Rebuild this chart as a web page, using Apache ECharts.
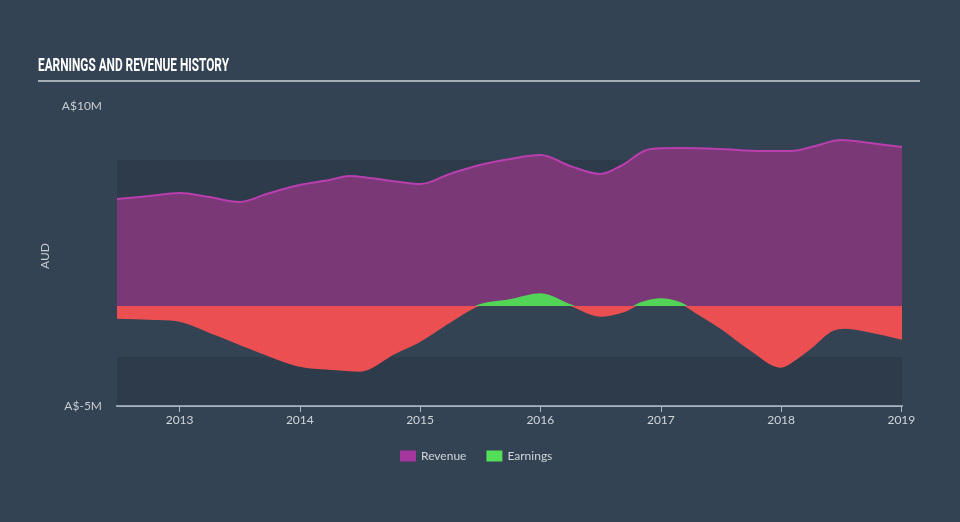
<!DOCTYPE html>
<html>
<head>
<meta charset="utf-8">
<script src="https://cdn.jsdelivr.net/npm/echarts@6/dist/echarts.min.js"></script>
<style>
html,body{margin:0;padding:0;background:#344353;}
#c{width:960px;height:522px;}
</style>
</head>
<body>
<div id="c"></div>
<script>
var revenueDates = ['2012-06-25','2012-10-01','2013-01-01','2013-04-01','2013-07-01','2013-10-01','2014-01-01','2014-04-01','2014-06-01','2014-08-01','2014-11-01','2015-01-01','2015-04-01','2015-07-01','2015-10-01','2016-01-01','2016-04-01','2016-07-01','2016-09-01','2016-12-01','2017-03-01','2017-07-01','2017-11-01','2018-02-01','2018-04-15','2018-07-01','2018-09-27','2019-01-03'];
var revenueValues = [5.35,5.5,5.65,5.45,5.2,5.65,6.05,6.3,6.5,6.4,6.2,6.1,6.6,7.05,7.35,7.55,7.0,6.6,7.0,7.85,7.9,7.85,7.75,7.75,8.0,8.3,8.15,7.95];

var earningsDates = ['2012-06-25','2012-10-01','2013-01-01','2013-04-01','2013-07-01','2013-10-01','2014-01-01','2014-04-01','2014-07-01','2014-08-15','2014-10-01','2015-01-01','2015-04-01','2015-07-01','2015-10-01','2016-01-01','2016-04-01','2016-07-01','2016-09-15','2016-11-01','2017-01-01','2017-03-01','2017-04-15','2017-07-01','2017-10-01','2018-01-01','2018-02-15','2018-04-01','2018-06-01','2018-07-15','2018-10-01','2019-01-03'];
var earningsValues = [-0.6,-0.65,-0.75,-1.3,-1.9,-2.5,-3.0,-3.15,-3.25,-3.0,-2.5,-1.75,-0.8,0.05,0.3,0.6,0.05,-0.5,-0.25,0.15,0.35,0.15,-0.3,-1.1,-2.2,-3.05,-2.65,-2.1,-1.25,-1.1,-1.3,-1.65];

var yearTicks = ['2013-01-01','2014-01-01','2015-01-01','2016-01-01','2017-01-01','2018-01-01','2019-01-01'];
var xStart = '2012-06-25', xEnd = '2019-01-03';
var yMin = -5, yMax = 10;
var titleText = 'EARNINGS AND REVENUE HISTORY';

function ts(s){ return +new Date(s + 'T00:00:00Z'); }
function pairs(d, v){ return d.map(function(x,i){ return [ts(x), v[i]]; }); }
var tickTs = yearTicks.map(ts);

// narrow title: measure and compress horizontally
var titleFont = 'bold 19px Roboto';
var mctx = document.createElement('canvas').getContext('2d');
mctx.font = titleFont;
var titleScale = 191 / mctx.measureText(titleText).width;

var chart = echarts.init(document.getElementById('c'), null, {renderer:'canvas'});
chart.setOption({
  backgroundColor: '#344353',
  animation: false,
  graphic: [
    {type:'text', x:38, y:57, scaleX: titleScale, scaleY: 1,
     style:{text: titleText, font: titleFont, fill:'#ffffff'}},
    {type:'rect', left:38, top:80, shape:{width:882, height:2}, style:{fill:'#a7adb4'}}
  ],
  legend: {
    top: 445, left: 395,
    icon: 'rect', itemWidth: 16, itemHeight: 11, itemGap: 20,
    textStyle: {color:'#d0d5da', fontFamily:'Lato', fontSize:12},
    data: [{name:'Revenue', itemStyle:{color:'#a4379b'}}, {name:'Earnings', itemStyle:{color:'#52de57'}}]
  },
  grid: {left:117, right:58, top:106, bottom:116},
  xAxis: {
    type: 'value',
    min: ts(xStart), max: ts(xEnd),
    axisLine: {show:true, onZero:false, lineStyle:{color:'#a9b4c2', width:2}},
    axisTick: {show:true, customValues: tickTs, length:6, lineStyle:{color:'#a9b4c2'}},
    axisLabel: {
      customValues: tickTs,
      color:'#d0d5da', fontFamily:'Lato', fontSize:12, margin:8,
      formatter: function(v){ return String(new Date(v).getUTCFullYear()); }
    },
    splitLine: {show:false}
  },
  yAxis: {
    type: 'value', min: yMin, max: yMax, interval: 15,
    name: 'AUD', nameLocation: 'middle', nameGap: 50, nameRotate: 90,
    nameTextStyle: {color:'#c8cdd3', fontFamily:'Lato', fontSize:12},
    axisLine: {show:false}, axisTick: {show:false},
    splitLine: {show:false},
    axisLabel: {color:'#c8cdd3', fontFamily:'Lato', fontSize:12, margin:15,
      formatter: function(v){ return 'A$' + v + 'M'; }}
  },
  visualMap: {
    show: false, type: 'piecewise', seriesIndex: 2, dimension: 1,
    pieces: [{min: -20, max: 0, color:'#ec4f51'}, {gt: 0, lte: 20, color:'#52d456'}]
  },
  series: [
    {
      name: 'bands', type: 'line', zlevel: 0, z: 1, silent: true,
      data: [[ts(xStart), null]], symbol: 'none',
      markArea: {
        silent: true,
        itemStyle: {color:'rgba(20,30,40,0.18)'},
        data: [
          [{yAxis: 7.3, xAxis: ts(xStart)}, {yAxis: 0, xAxis: ts(xEnd)}],
          [{yAxis: -2.55, xAxis: ts(xStart)}, {yAxis: -5, xAxis: ts(xEnd)}]
        ]
      }
    },
    {
      name: 'Revenue', type: 'line', zlevel: 1, z: 2,
      data: pairs(revenueDates, revenueValues),
      smooth: 0.35, symbol: 'none',
      lineStyle: {color:'#b93eae', width: 2},
      itemStyle: {color:'#a4379b'},
      areaStyle: {color:'#7a3876', opacity: 1}
    },
    {
      name: 'Earnings', type: 'line', zlevel: 1, z: 3,
      data: pairs(earningsDates, earningsValues),
      smooth: 0.35, symbol: 'none',
      lineStyle: {width: 1.5},
      itemStyle: {color:'#52de57'},
      areaStyle: {opacity: 1}
    }
  ]
});
</script>
</body>
</html>
